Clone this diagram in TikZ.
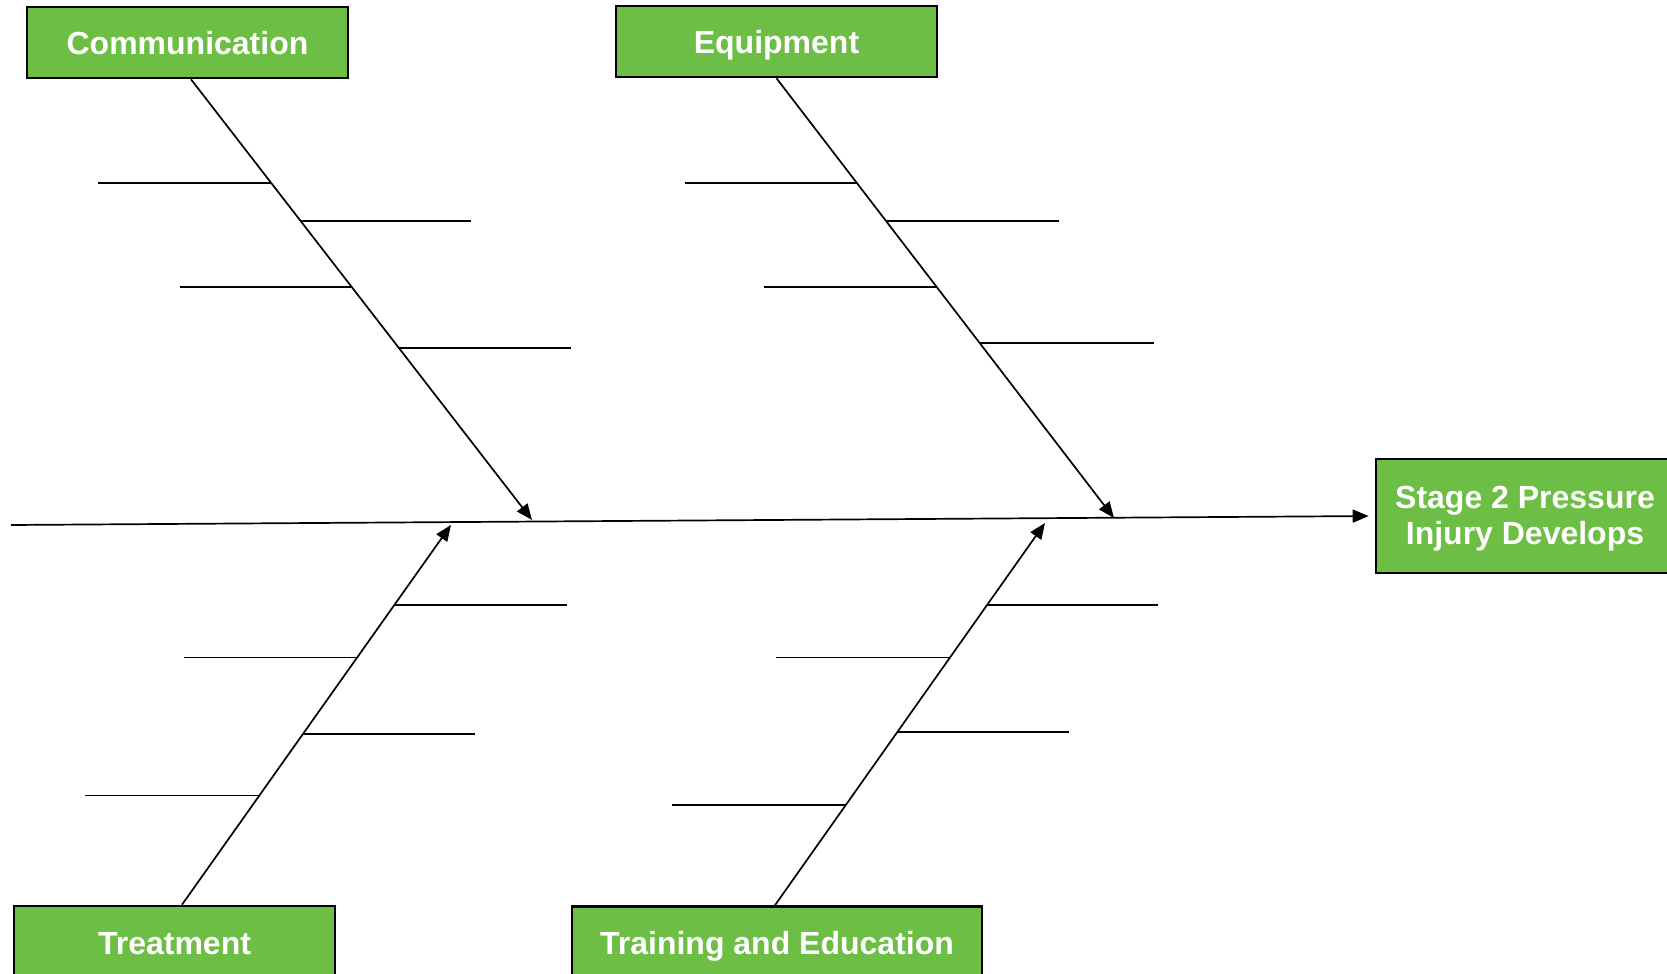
\documentclass[tikz,border=0pt]{standalone}
\usepackage{fontspec}
\setmainfont{Liberation Sans}
\usetikzlibrary{arrows.meta,calc}
\definecolor{boxgreen}{HTML}{6DBE45}
\begin{document}
\begin{tikzpicture}[x=0.5pt,y=-0.5pt,
  greenbox/.style={draw=black, line width=1.3pt, fill=boxgreen, text=white,
    font=\bfseries\fontsize{16}{18}\selectfont, inner sep=0pt, align=center},
  catbox/.style={greenbox, minimum height=35.5pt, text height=12.5pt, text depth=0pt},
  bone/.style={line width=0.85pt, -{Triangle[length=8pt,width=6.5pt]}},
  rib/.style={line width=0.85pt}]
\useasboundingbox (0,0) rectangle (1667,974);
\clip (0,0) rectangle (1667,974);

% category boxes
\node[catbox, minimum width=160.5pt] (comm)  at (187.5,42.5) {Communication};
\node[catbox, minimum width=160.5pt] (equip) at (776.5,41.5) {Equipment};
\node[catbox, minimum width=160.5pt] (treat) at (174.5,941.5) {Treatment};
\node[catbox, minimum width=205pt]   (train) at (777,942) {Training and Education};
\node[greenbox, minimum width=149pt, minimum height=57pt] (effect) at (1525,516)
  {\rule{0pt}{13.5pt}Stage 2 Pressure\\Injury Develops};

% spine
\coordinate (spinestart) at (11,525);
\draw[bone, shorten >=3pt] (spinestart) -- (effect.west);

% bone tips on the spine
\coordinate (ctip) at (532,520);
\coordinate (etip) at (1114,518);
\coordinate (ttip) at (451,525);
\coordinate (rtip) at (1045,523);
\coordinate (cs) at ([xshift=1.75pt]comm.south);
\coordinate (ts) at ([xshift=3.75pt]treat.north);
\coordinate (rs) at ([xshift=-1pt]train.north);

\draw[bone] (cs) -- (ctip);
\draw[bone] (equip.south) -- (etip);
\draw[bone] (ts) -- (ttip);
\draw[bone] (rs) -- (rtip);

% points along bones
\path (cs) -- (ctip) coordinate[pos=0.235] (c1) coordinate[pos=0.321] (c2)
      coordinate[pos=0.471] (c3) coordinate[pos=0.610] (c4);
\path (equip.south) -- (etip) coordinate[pos=0.238] (e1) coordinate[pos=0.325] (e2)
      coordinate[pos=0.474] (e3) coordinate[pos=0.602] (e4);
\path (ts) -- (ttip) coordinate[pos=0.790] (t1) coordinate[pos=0.651] (t2)
      coordinate[pos=0.450] (t3) coordinate[pos=0.288] (t4);
\path (rs) -- (rtip) coordinate[pos=0.786] (r1) coordinate[pos=0.648] (r2)
      coordinate[pos=0.454] (r3) coordinate[pos=0.263] (r4);

% ribs
\draw[rib] (c1) -- ++(-173,0);
\draw[rib] (c2) -- ++(171,0);
\draw[rib] (c3) -- ++(-172,0);
\draw[rib] (c4) -- ++(172,0);

\draw[rib] (e1) -- ++(-172,0);
\draw[rib] (e2) -- ++(173,0);
\draw[rib] (e3) -- ++(-172,0);
\draw[rib] (e4) -- ++(174,0);

\draw[rib] (t1) -- ++(172,0);
\draw[rib] (t2) -- ++(-173,0);
\draw[rib] (t3) -- ++(172,0);
\draw[rib] (t4) -- ++(-174,0);

\draw[rib] (r1) -- ++(171,0);
\draw[rib] (r2) -- ++(-174,0);
\draw[rib] (r3) -- ++(171,0);
\draw[rib] (r4) -- ++(-174,0);
\end{tikzpicture}
\end{document}
